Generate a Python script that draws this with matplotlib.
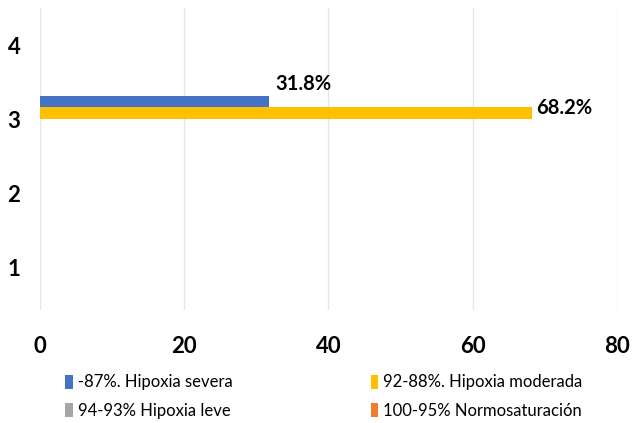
import matplotlib.pyplot as plt
import numpy as np

plt.rcParams['font.family'] = ['Lato', 'DejaVu Sans']

categories = [1, 2, 3, 4]
series_names = ['-87%. Hipoxia severa', '92-88%. Hipoxia moderada',
                '94-93% Hipoxia leve', '100-95% Normosaturación']
severa = [0, 0, 31.8, 0]
moderada = [0, 0, 68.2, 0]
leve = [0, 0, 0, 0]
normo = [0, 0, 0, 0]
colors = ['#4472C4', '#FFC000', '#A5A5A5', '#ED7D31']

fig, ax = plt.subplots(figsize=(6.32, 4.23), dpi=100)
fig.subplots_adjust(left=0.063, right=0.976, top=0.981, bottom=0.267)

y = np.array(categories, dtype=float)
h = 0.16
offsets = [1.5 * h, 0.5 * h, -0.5 * h, -1.5 * h]
bars = []
for vals, off, col, name in zip([severa, moderada, leve, normo], offsets, colors, series_names):
    b = ax.barh(y + off, vals, height=h, color=col, label=name, zorder=3)
    bars.append(b)
    for yy, v in zip(y + off, vals):
        if v > 0:
            if off > h:
                ax.text(v + 0.8, yy + 0.1, f'{v:.1f}%', fontsize=14.5, fontweight='bold',
                        va='bottom', ha='left')
            else:
                ax.text(v + 0.6, yy + 0.07, f'{v:.1f}%', fontsize=14.5, fontweight='bold',
                        va='center', ha='left')

ax.set_xlim(0, 80)
ax.set_ylim(0.43, 4.5)
ax.set_xticks([0, 20, 40, 60, 80])
ax.set_yticks(categories)
ax.grid(axis='x', color='#e6e6e6', linewidth=1, zorder=0)
for s in ax.spines.values():
    s.set_visible(False)
ax.tick_params(length=0, labelsize=16)
ax.tick_params(axis='x', pad=19)
ax.tick_params(axis='y', pad=14)
for lab in ax.get_xticklabels() + ax.get_yticklabels():
    lab.set_fontweight('bold')

handles = [bars[0], bars[2], bars[1], bars[3]]
labels = [series_names[0], series_names[2], series_names[1], series_names[3]]
fig.legend(handles, labels, ncol=2, loc='lower left', bbox_to_anchor=(0.09, -0.01),
           frameon=False, fontsize=12, handlelength=0.45, handleheight=0.9,
           handletextpad=0.3, columnspacing=8.3, labelspacing=0.75, borderpad=0)

fig.savefig('out.png')
